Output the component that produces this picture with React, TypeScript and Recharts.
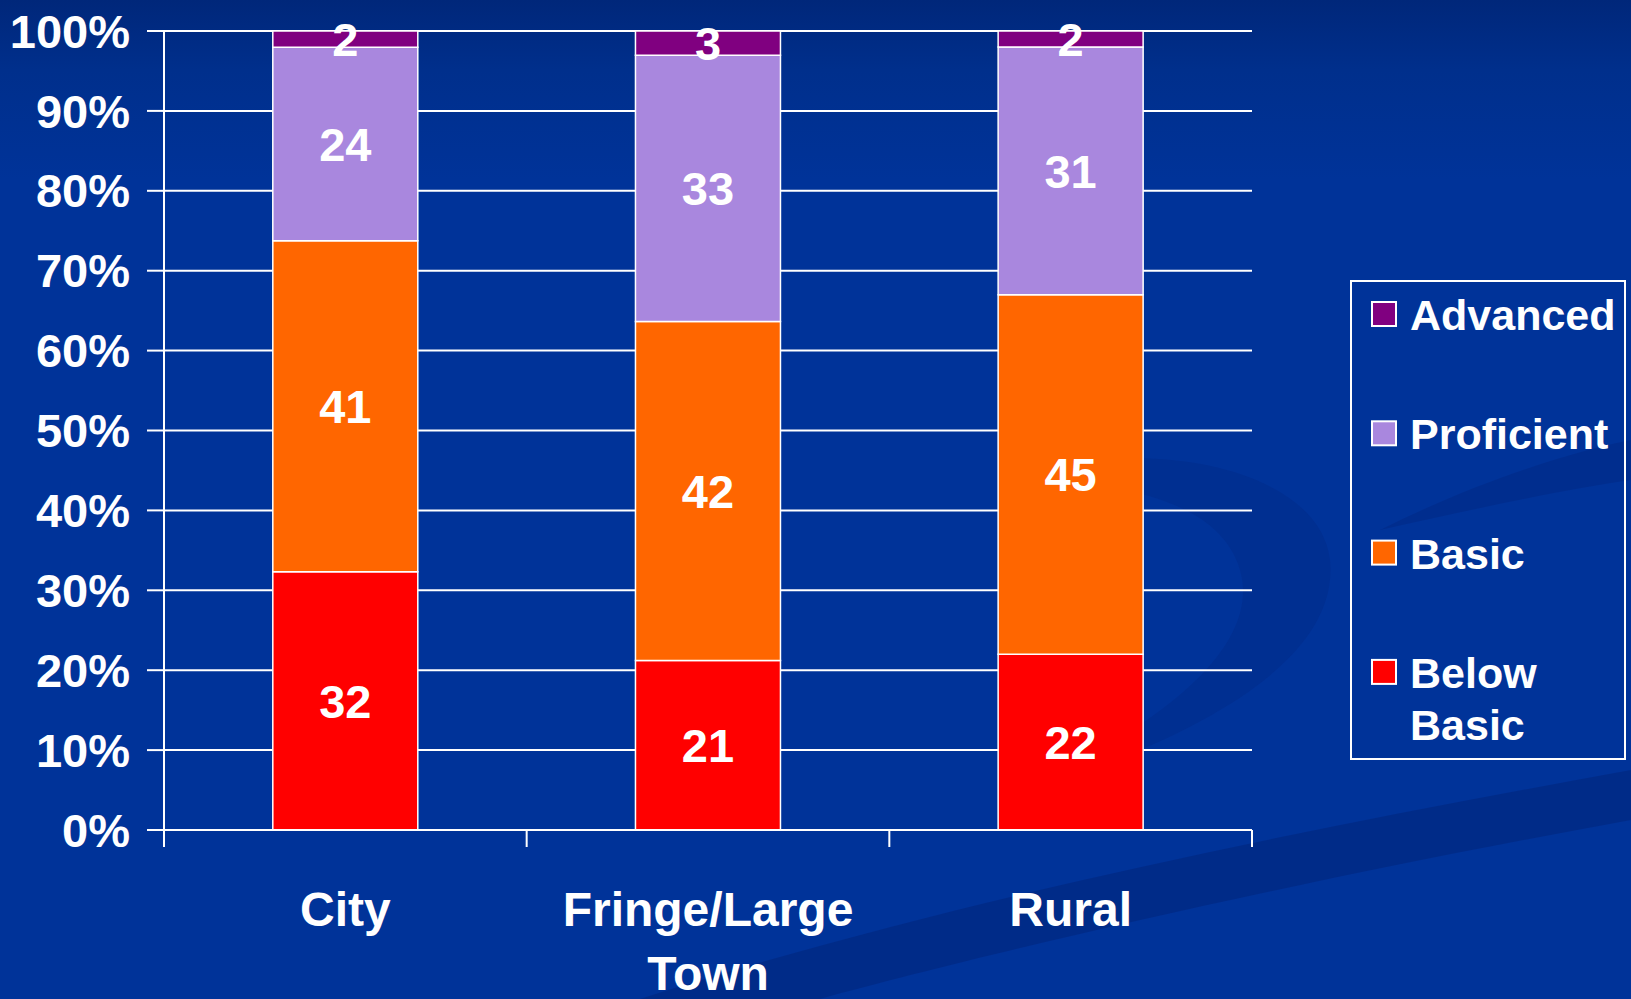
import React from 'react';
import { BarChart, Bar, XAxis, YAxis, CartesianGrid, Legend, LabelList } from 'recharts';

const categories = ['City', 'Fringe/Large Town', 'Rural'];
const belowBasic = [32, 21, 22];
const basic = [41, 42, 45];
const proficient = [24, 33, 31];
const advanced = [2, 3, 2];
const yTicks = [0, 0.1, 0.2, 0.3, 0.4, 0.5, 0.6, 0.7, 0.8, 0.9, 1];
const legendOrder = ['Advanced', 'Proficient', 'Basic', 'Below Basic'];

const data = categories.map((name, i) => ({
    name,
    below: belowBasic[i],
    basic: basic[i],
    proficient: proficient[i],
    advanced: advanced[i],
}));

const FONT = '"Liberation Sans", Arial, sans-serif';
const WHITE = '#ffffff';

// category label plus Excel-style tick marks on the category boundaries
function CategoryTick(props: any) {
    const { x, y, payload, width, visibleTicksCount, index } = props;
    const step = width / visibleTicksCount;
    const lines = String(payload.value).split(' ');
    const isLast = index === visibleTicksCount - 1;
    return (
        <g>
            <line x1={x - step / 2} x2={x - step / 2} y1={y} y2={y + 17} stroke={WHITE} strokeWidth={2} />
            {isLast && <line x1={x + step / 2} x2={x + step / 2} y1={y} y2={y + 17} stroke={WHITE} strokeWidth={2} />}
            <text x={x} y={y + 96} textAnchor="middle" fill={WHITE} fontFamily={FONT} fontWeight="bold" fontSize={48}>
                {lines.map((line, i) => (
                    <tspan key={i} x={x} dy={i === 0 ? 0 : 64}>{line}</tspan>
                ))}
            </text>
        </g>
    );
}

function LegendBox(props: any) {
    const items = [...(props.payload || [])].sort(
        (a: any, b: any) => legendOrder.indexOf(a.value) - legendOrder.indexOf(b.value)
    );
    return (
        <div style={{ width: 276, height: 480, border: '2px solid #fff', boxSizing: 'border-box' }}>
            <svg width={272} height={476}>
                {items.map((item: any, i: number) => {
                    const top = 20 + i * 119.3;
                    const words = String(item.value).split(' ');
                    return (
                        <g key={item.value}>
                            <rect x={20} y={top} width={24} height={24} fill={item.color} stroke={WHITE} strokeWidth={2} />
                            <text x={58} y={top + 28} fill={WHITE} fontFamily={FONT} fontWeight="bold" fontSize={43}>
                                {words.map((w, j) => (
                                    <tspan key={j} x={58} dy={j === 0 ? 0 : 52}>{w}</tspan>
                                ))}
                            </text>
                        </g>
                    );
                })}
            </svg>
        </div>
    );
}

const labelStyle = { fill: WHITE, fontSize: 47, fontWeight: 'bold' as const, fontFamily: FONT };

export default function App() {
    return (
        <div style={{
            position: 'absolute', left: 0, top: 0, width: 1631, height: 999, overflow: 'hidden',
            background: 'linear-gradient(180deg, #00277a 0%, #002f8c 7%, #003399 18%, #003399 100%)',
        }}>
            <svg width={1631} height={999} style={{ position: 'absolute', left: 0, top: 0 }}>
                <path d="M 640 999 C 950 900, 1300 830, 1631 770 L 1631 820 C 1300 880, 1000 950, 820 999 Z" fill="rgba(0,25,100,0.3)" />
                <path d="M 1000 480 C 1150 430, 1320 470, 1330 560 C 1340 660, 1200 740, 1000 800 C 1180 720, 1260 640, 1240 570 C 1220 500, 1120 480, 1000 480 Z" fill="rgba(0,25,100,0.15)" />
                <path d="M 1380 530 C 1520 460, 1631 440, 1631 440 L 1631 480 C 1560 490, 1470 510, 1380 530 Z" fill="rgba(0,25,100,0.2)" />
            </svg>
            <BarChart
                width={1631}
                height={999}
                data={data}
                stackOffset="expand"
                barCategoryGap="30%"
                margin={{ top: 31, right: 379, bottom: 0, left: 0 }}
                style={{ position: 'absolute', left: 0, top: 0 }}
            >
                <CartesianGrid vertical={false} stroke={WHITE} strokeWidth={2} />
                <XAxis
                    dataKey="name"
                    height={169}
                    axisLine={{ stroke: WHITE, strokeWidth: 2 }}
                    tickLine={false}
                    tickSize={0}
                    tickMargin={0}
                    interval={0}
                    tick={<CategoryTick />}
                />
                <YAxis
                    width={164}
                    domain={[0, 1]}
                    ticks={yTicks}
                    interval={0}
                    tickFormatter={(v: number) => `${Math.round(v * 100)}%`}
                    tick={{ fill: WHITE, fontSize: 47, fontWeight: 'bold', fontFamily: FONT }}
                    tickSize={17}
                    tickMargin={17}
                    tickLine={{ stroke: WHITE, strokeWidth: 2 }}
                    axisLine={{ stroke: WHITE, strokeWidth: 2 }}
                />
                <YAxis
                    yAxisId="right"
                    orientation="right"
                    width={0}
                    tick={false}
                    tickLine={false}
                    axisLine={{ stroke: WHITE, strokeWidth: 2 }}
                />
                <Bar dataKey="below" name="Below Basic" stackId="a" fill="#ff0000" stroke={WHITE} strokeWidth={1.5} isAnimationActive={false}>
                    <LabelList dataKey="below" position="center" {...labelStyle} />
                </Bar>
                <Bar dataKey="basic" name="Basic" stackId="a" fill="#ff6600" stroke={WHITE} strokeWidth={1.5} isAnimationActive={false}>
                    <LabelList dataKey="basic" position="center" {...labelStyle} />
                </Bar>
                <Bar dataKey="proficient" name="Proficient" stackId="a" fill="#a987de" stroke={WHITE} strokeWidth={1.5} isAnimationActive={false}>
                    <LabelList dataKey="proficient" position="center" {...labelStyle} />
                </Bar>
                <Bar dataKey="advanced" name="Advanced" stackId="a" fill="#800080" stroke={WHITE} strokeWidth={1.5} isAnimationActive={false}>
                    <LabelList dataKey="advanced" position="center" {...labelStyle} />
                </Bar>
                <Legend
                    layout="horizontal"
                    verticalAlign="middle"
                    align="center"
                    content={<LegendBox />}
                    wrapperStyle={{ position: 'absolute', left: 1350, top: 280, width: 276, height: 480 }}
                />
            </BarChart>
        </div>
    );
}
